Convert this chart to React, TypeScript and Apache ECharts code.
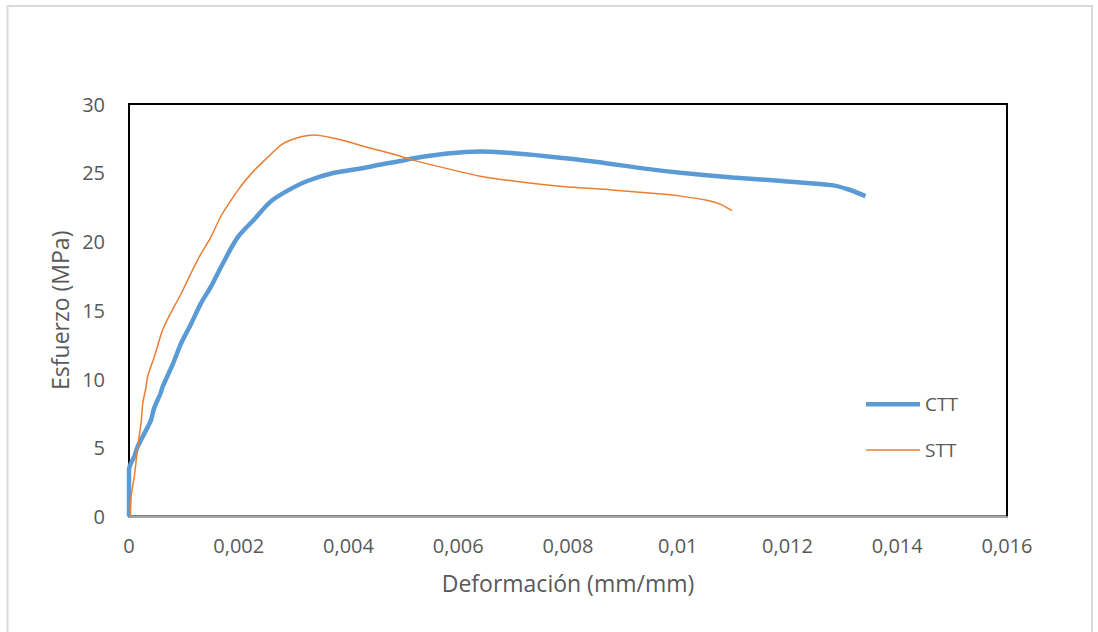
import React, { useEffect, useRef } from "react";
import * as echarts from "echarts";

const xTickLabels = ["0", "0,002", "0,004", "0,006", "0,008", "0,01", "0,012", "0,014", "0,016"];
const yTickLabels = ["0", "5", "10", "15", "20", "25", "30"];

const cttStrain = [0, 0, 0.0001, 0.00016, 0.00034, 0.0004, 0.00046, 0.00058, 0.00061, 0.0008, 0.00095, 0.00113, 0.00131, 0.00149, 0.00171, 0.00198, 0.00228, 0.00258, 0.00289, 0.00325, 0.00374, 0.00428, 0.00459, 0.00495, 0.00519, 0.0058, 0.0064, 0.0069, 0.0076, 0.0085, 0.0094, 0.01005, 0.011, 0.0119, 0.0128, 0.0131, 0.01342];
const cttStress = [0, 3.4, 4.4, 5.1, 6.5, 7.0, 7.9, 9.0, 9.4, 11.1, 12.6, 14.0, 15.5, 16.7, 18.4, 20.3, 21.6, 22.9, 23.7, 24.4, 25.0, 25.35, 25.6, 25.85, 26.05, 26.4, 26.55, 26.45, 26.2, 25.8, 25.3, 25.0, 24.66, 24.4, 24.1, 23.8, 23.3];

const sttStrain = [0, 0.00002, 0.00004, 0.0001, 0.00016, 0.00022, 0.00025, 0.00031, 0.00034, 0.00046, 0.00061, 0.00076, 0.00095, 0.00113, 0.00131, 0.00149, 0.00167, 0.00198, 0.00222, 0.00252, 0.0028, 0.00307, 0.00337, 0.00386, 0.00434, 0.00459, 0.00495, 0.00519, 0.0058, 0.0064, 0.007, 0.0079, 0.0088, 0.0097, 0.01005, 0.01053, 0.01078, 0.01099];
const sttStress = [0, 0.3, 1.5, 3.0, 5.1, 6.8, 8.2, 9.4, 10.2, 11.6, 13.55, 14.8, 16.2, 17.7, 19.1, 20.3, 21.8, 23.7, 24.9, 26.1, 27.1, 27.55, 27.75, 27.4, 26.85, 26.6, 26.2, 25.9, 25.3, 24.75, 24.4, 24.0, 23.75, 23.45, 23.3, 23.0, 22.7, 22.25];

const FONT = "'Open Sans', sans-serif";
const TXT = "#595959";
const BLUE = "#5B9BD5";
const ORANGE = "#ED7D31";

export default function App() {
  const ref = useRef<HTMLDivElement>(null);
  useEffect(() => {
    if (!ref.current) return;
    const chart = echarts.init(ref.current, undefined, { renderer: "svg" });
    const ctt = cttStrain.map((x, i) => [x, cttStress[i]]);
    const stt = sttStrain.map((x, i) => [x, sttStress[i]]);
    const xIdx = (v: number) => Math.round(v / 0.002);
    const yIdx = (v: number) => Math.round(v / 5);
    const legendCommon = {
      orient: "vertical",
      left: 866,
      padding: 0,
      itemWidth: 54,
      icon: "rect",
      itemGap: 0,
      textStyle: { color: TXT, fontSize: 19, fontFamily: FONT, lineHeight: 20, padding: [0, 0, 0, 0] },
    };
    chart.setOption({
      animation: false,
      backgroundColor: "#ffffff",
      textStyle: { fontFamily: FONT },
      grid: {
        left: 129,
        top: 104,
        right: 91,
        bottom: 115.5,
        show: true,
        borderColor: "#000000",
        borderWidth: 2,
        backgroundColor: "transparent",
      },
      graphic: [
        {
          type: "rect",
          shape: { x: 7.5, y: 6, width: 1084.5, height: 650 },
          style: { fill: "none", stroke: "#D9D9D9", lineWidth: 2 },
          silent: true,
          z: -1,
        },
      ],
      legend: [
        { ...legendCommon, top: 394.3, itemHeight: 4.5, data: ["CTT"] },
        { ...legendCommon, top: 440, itemHeight: 1.5, data: ["STT"] },
      ],
      xAxis: {
        type: "value",
        min: 0,
        max: 0.016,
        interval: 0.002,
        name: "Deformación (mm/mm)",
        nameLocation: "middle",
        nameGap: 55,
        nameTextStyle: { color: TXT, fontSize: 23, fontFamily: FONT },
        axisLine: { show: true, onZero: false, lineStyle: { color: "#A6A6A6", width: 2 } },
        axisTick: { show: false },
        splitLine: { show: false },
        axisLabel: {
          color: TXT,
          fontSize: 20,
          fontFamily: FONT,
          margin: 19,
          formatter: (v: number) => xTickLabels[xIdx(v)] ?? "",
        },
      },
      yAxis: {
        type: "value",
        min: 0,
        max: 30,
        interval: 5,
        name: "Esfuerzo (MPa)",
        nameLocation: "middle",
        nameGap: 56,
        nameTextStyle: { color: TXT, fontSize: 23, fontFamily: FONT },
        axisLine: { show: false },
        axisTick: { show: false },
        splitLine: { show: false },
        axisLabel: {
          color: TXT,
          fontSize: 20,
          fontFamily: FONT,
          margin: 24,
          formatter: (v: number) => yTickLabels[yIdx(v)] ?? "",
        },
      },
      series: [
        {
          name: "CTT",
          type: "line",
          data: ctt,
          symbol: "none",
          smooth: 0.3,
          lineStyle: { color: BLUE, width: 4.5 },
          itemStyle: { color: BLUE },
          z: 2,
        },
        {
          name: "STT",
          type: "line",
          data: stt,
          symbol: "none",
          smooth: 0.25,
          lineStyle: { color: ORANGE, width: 1.5 },
          itemStyle: { color: ORANGE },
          z: 3,
        },
      ],
    });
    return () => chart.dispose();
  }, []);
  return (
    <div
      ref={ref}
      style={{ position: "absolute", left: 0, top: 0, width: 1098, height: 632 }}
    />
  );
}
